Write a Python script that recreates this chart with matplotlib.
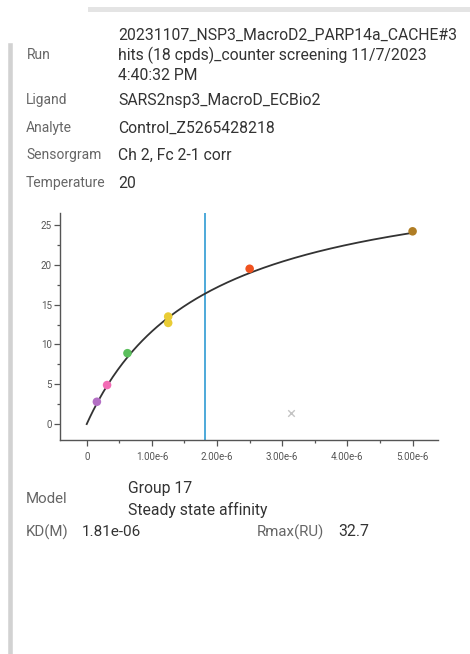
"""Steady state affinity plot for one analyte, with the run info panel around it.

Writes out.png
"""
import numpy as np
import matplotlib
matplotlib.use("Agg")
import matplotlib.pyplot as plt
from matplotlib.ticker import MultipleLocator, FixedLocator
from matplotlib.lines import Line2D

plt.rcParams["font.family"] = ["Roboto", "DejaVu Sans"]

# info panel
INFO_LABELS = ["Ligand", "Analyte", "Sensorgram", "Temperature"]
INFO_VALUES = ["SARS2nsp3_MacroD_ECBio2", "Control_Z5265428218",
               "Ch 2, Fc 2-1 corr", "20"]
RUN_LINES = ["20231107_NSP3_MacroD2_PARP14a_CACHE#3",
             "hits (18 cpds)_counter screening 11/7/2023",
             "4:40:32 PM"]

# measured responses (concentration in M, response in RU)
conc = [0.156e-6, 0.3125e-6, 0.625e-6, 1.25e-6, 1.25e-6, 2.5e-6, 5.0e-6]
resp = [2.8, 4.9, 8.9, 13.5, 12.7, 19.5, 24.2]
colors = ["#b36fc4", "#f26cb5", "#5bbf5c", "#e9cc35", "#e9cc35", "#f0521f", "#b07d24"]
excl_conc = [3.13e-6]
excl_resp = [1.45]

# fit result
KD = 1.81e-6
RMAX = 32.7
x_ticks = [0, 1e-6, 2e-6, 3e-6, 4e-6, 5e-6]
x_ticklabels = ["0", "1.00e-6", "2.00e-6", "3.00e-6", "4.00e-6", "5.00e-6"]
y_ticks = [0, 5, 10, 15, 20, 25]

W, H = 470, 654
fig = plt.figure(figsize=(W / 100, H / 100), dpi=100)
fig.patch.set_facecolor("white")


def px(x, y):
    return x / W, 1 - y / H


LAB = "#666666"
VAL = "#333333"
FS_LAB = 10.0
FS_VAL = 11.3

# decorative panel bars
fig.add_artist(Line2D([90 / W, 1], [1 - 9 / H] * 2, color="#e4e4e4", lw=3.6))
fig.add_artist(Line2D([9.7 / W] * 2, [1 - 45 / H, 0], color="#d2d2d2", lw=3.3))

fig.text(*px(27, 55), "Run", color=LAB, fontsize=FS_LAB, va="center")
for y, line in zip([35, 55, 75], RUN_LINES):
    fig.text(*px(118, y), line, color=VAL, fontsize=FS_VAL, va="center")
for y, lab, val in zip([100, 128, 155, 183], INFO_LABELS, INFO_VALUES):
    fig.text(*px(26, y), lab, color=LAB, fontsize=FS_LAB, va="center")
    fig.text(*px(118, y), val, color=VAL, fontsize=FS_VAL, va="center")

# plot
ax = fig.add_axes([60 / W, 1 - 440 / H, (438 - 60) / W, (440 - 213) / H])
xs = np.linspace(0, max(conc), 200)
ax.plot(xs, RMAX * xs / (KD + xs), color="#333333", lw=1.3, zorder=2)  # steady state fit
ax.axvline(KD, color="#2f9bd3", lw=1.2, zorder=1)
ax.scatter(conc, resp, c=colors, s=38, zorder=3, edgecolors="none")
ax.scatter(excl_conc, excl_resp, marker="x", color="#c4c4c4", s=22, lw=1.0, zorder=3)

ax.set_xlim(-0.41e-6, 5.39e-6)
ax.set_ylim(-2.0, 26.5)
ax.xaxis.set_major_locator(FixedLocator(x_ticks))
ax.set_xticklabels(x_ticklabels)
ax.xaxis.set_minor_locator(MultipleLocator(0.5e-6))
ax.yaxis.set_major_locator(FixedLocator(y_ticks))
ax.yaxis.set_minor_locator(MultipleLocator(2.5))
for s in ("top", "right"):
    ax.spines[s].set_visible(False)
for s in ("left", "bottom"):
    ax.spines[s].set_color("#555555")
    ax.spines[s].set_linewidth(1.0)
ax.tick_params(which="both", color="#555555", labelcolor="#555555", labelsize=7, width=0.9)
ax.tick_params(which="major", length=4, pad=2)
ax.tick_params(which="minor", length=2.5)
ax.tick_params(axis="x", which="both", pad=5)

# model section
fig.text(*px(26, 499), "Model", color=LAB, fontsize=10.8, va="center")
fig.text(*px(128, 488), "Group 17", color=VAL, fontsize=11.3, va="center")
fig.text(*px(128, 510), "Steady state affinity", color=VAL, fontsize=11.3, va="center")
fig.text(*px(26, 532), "KD(M)", color=LAB, fontsize=10.8, va="center")
fig.text(*px(82, 532), f"{KD:.2e}", color=VAL, fontsize=11.0, va="center")
fig.text(*px(257, 532), "Rmax(RU)", color=LAB, fontsize=10.8, va="center")
fig.text(*px(338, 532), f"{RMAX}", color=VAL, fontsize=11.3, va="center")

fig.savefig("out.png", dpi=100)
